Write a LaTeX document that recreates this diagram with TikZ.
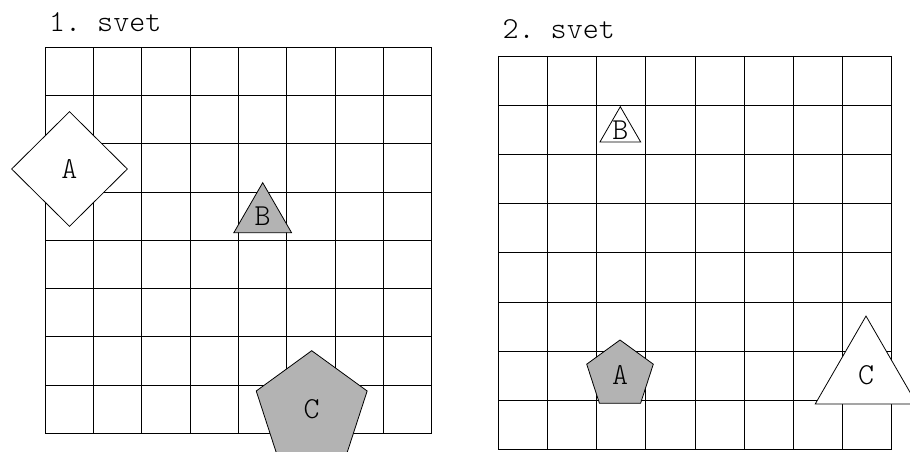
\documentclass[tikz,border=0pt]{standalone}
\usepackage{fontspec}
\setmonofont{Latin Modern Mono Light}
\usepackage{tikz}
\usetikzlibrary{shapes.geometric}
\definecolor{shadegray}{RGB}{179,179,179}

\begin{document}
\begin{tikzpicture}[x=1pt,y=-1pt,
    every node/.style={font=\ttfamily\fontsize{30.5}{33}\selectfont},
    figure/.style={draw=black, line width=0.8pt, inner sep=0pt},
    tri/.style={figure, regular polygon, regular polygon sides=3},
    penta/.style={figure, regular polygon, regular polygon sides=5},
    rhomb/.style={figure, diamond, aspect=1}]
      \clip (0,0) rectangle (910,452);
      % world 1: 8x8 cells, top left (45,47.3), cell 48.33
      \node[anchor=base west,inner sep=0pt] (title1) at (49,32) {1. svet};
      \foreach \i in {0,...,8} {
        \draw[line width=0.8pt] (45+48.33*\i,47.3) -- (45+48.33*\i,433.3);
        \draw[line width=0.8pt] (45,47.3+48.25*\i) -- (431.7,47.3+48.25*\i);
      }
      \node[rhomb,fill=white,minimum width=116,minimum height=115,label=center:A] (a1) at (69.5,169) {};
      \node[tri,fill=shadegray,minimum size=66.6,label=center:B] (b1) at (262.7,216) {};
      \node[penta,fill=shadegray,minimum size=116.6,label=center:C] (c1) at (311.7,409) {};
      % world 2: 8x8 cells, top left (498.3,56), cell 49.18
      \node[anchor=base west,inner sep=0pt] (title2) at (502.5,38.3) {2. svet};
      \foreach \i in {0,...,8} {
        \draw[line width=0.8pt] (498.3+49.18*\i,56) -- (498.3+49.18*\i,449.4);
        \draw[line width=0.8pt] (498.3,56+49.18*\i) -- (891.7,56+49.18*\i);
      }
      \node[tri,fill=white,minimum size=47,label=center:B] (b2) at (620.3,130.2) {};
      \node[penta,fill=shadegray,minimum size=70,label=center:A] (a2) at (620,375) {};
      \node[tri,fill=white,minimum size=117.3,label=center:C] (c2) at (866,374.7) {};
\end{tikzpicture}
\end{document}
